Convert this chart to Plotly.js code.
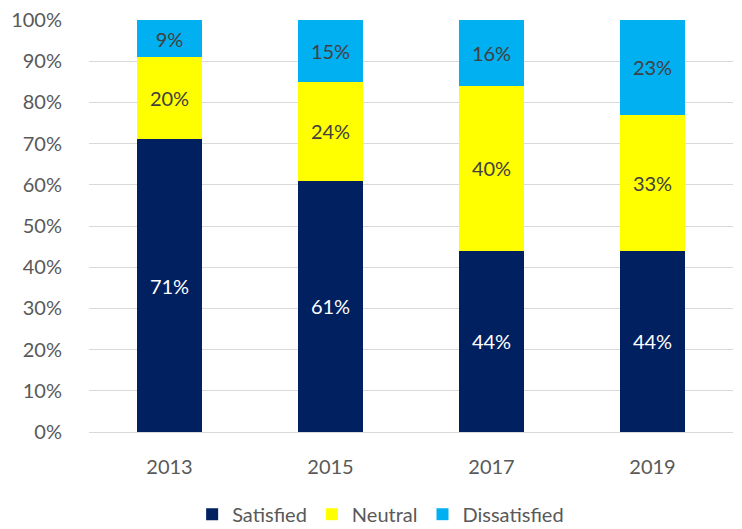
<!DOCTYPE html>
<html>
<head>
<meta charset="utf-8">
<script src="https://cdn.plot.ly/plotly-3.0.1.min.js"></script>
<style>html,body{margin:0;padding:0;background:#fff;}#chart{width:742px;height:529px;}</style>
</head>
<body>
<div id="chart"></div>
<script>
const years = ['2013', '2015', '2017', '2019'];
const satisfied = [71, 61, 44, 44];
const neutral = [20, 24, 40, 33];
const dissatisfied = [9, 15, 16, 23];
const seriesNames = ['Satisfied', 'Neutral', 'Dissatisfied'];
const colors = ['#002060', '#FFFF00', '#00B0F0'];
const labelColors = ['#FFFFFF', '#404040', '#404040'];
const tickVals = [0,10,20,30,40,50,60,70,80,90,100];

const FONT = 'Lato, "Open Sans", sans-serif';
const data = [satisfied, neutral, dissatisfied].map((vals, i) => ({
  type: 'bar',
  name: seriesNames[i],
  x: years,
  y: vals,
  marker: {color: colors[i]},
  text: vals.map(v => v + '%'),
  textposition: 'inside',
  insidetextanchor: 'middle',
  constraintext: 'none',
  textfont: {family: FONT, size: 20, color: labelColors[i]},
  hoverinfo: 'none'
}));

const layout = {
  width: 742, height: 529,
  margin: {l: 89, r: 9, t: 20, b: 97},
  barmode: 'stack',
  bargap: 0.6,
  paper_bgcolor: '#fff',
  plot_bgcolor: '#fff',
  font: {family: FONT, size: 20, color: '#595959'},
  xaxis: {
    type: 'category',
    showgrid: false,
    showline: true, linecolor: '#D9D9D9', linewidth: 1,
    ticks: 'outside', ticklen: 17, tickcolor: 'rgba(0,0,0,0)',
    tickfont: {family: FONT, size: 20, color: '#595959'}
  },
  yaxis: {
    range: [0, 100],
    tickvals: tickVals,
    ticktext: tickVals.map(v => v + '%'),
    showgrid: true, gridcolor: '#D9D9D9', gridwidth: 1,
    zeroline: false,
    ticks: 'outside', ticklen: 22, tickcolor: 'rgba(0,0,0,0)',
    tickfont: {family: FONT, size: 20, color: '#595959'}
  },
  legend: {
    orientation: 'h', x: 0.513, xref: 'container', xanchor: 'center',
    y: 0.028, yref: 'container', yanchor: 'middle',
    font: {family: FONT, size: 20, color: '#595959'},
    traceorder: 'normal', itemwidth: 30
  },
  showlegend: true
};

Plotly.newPlot('chart', data, layout, {displayModeBar: false, staticPlot: true});
</script>
</body>
</html>
